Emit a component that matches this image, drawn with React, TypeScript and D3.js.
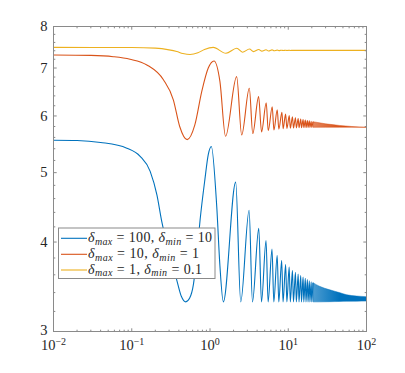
import React from "react";
import * as d3 from "d3";

const W = 405;
const H = 373;
const M = { left: 53.5, right: 366.5, top: 26.5, bottom: 331.5 };

const xDomain: [number, number] = [0.01, 100];
const yDomain: [number, number] = [3, 8];
const xMajorTicks = [0.01, 0.1, 1, 10, 100];
const xTickExponents = ["\u22122", "\u22121", "0", "1", "2"];
const yMajorTicks = [3, 4, 5, 6, 7, 8];

const seriesColors = ["#0072BD", "#D95319", "#EDB120"];
const legendMax = ["100", "10", "1"];
const legendMin = ["10", "1", "0.1"];
const legendWidths = [124, 111, 114];

// delta_max = 100, delta_min = 10 (extrema and shape points)
const blueSeries: [number, number][] = [
  [0.01, 5.55], [0.02, 5.545], [0.04, 5.51], [0.0865, 5.41], [0.128, 5.27], [0.172, 5.02],
  [0.21, 4.65], [0.242, 4.27], [0.3, 3.88], [0.376, 3.54], [0.43, 3.36], [0.49, 3.3],
  [0.55, 3.34], [0.614, 3.49], [0.68, 3.85], [0.748, 4.3], [0.86, 4.89], [0.95, 5.3],
  [1.04, 5.44], [1.22, 4.48], [1.34, 3.7], [1.48, 3.3], [2.13, 4.85], [2.47, 3.3],
  [3.16, 4.43], [3.49, 3.3], [4.2, 4.18], [4.55, 3.3], [5.2, 4.02], [5.53, 3.3],
  [6.2, 3.91], [6.54, 3.3], [7.22, 3.83], [7.57, 3.3], [8.24, 3.77], [8.58, 3.3],
  [9.26, 3.72], [9.6, 3.3], [10.28, 3.69], [10.62, 3.3], [11.32, 3.65], [11.65, 3.3],
  [12.36, 3.63], [12.68, 3.3], [13.4, 3.61], [13.72, 3.3], [14.44, 3.59], [14.76, 3.3],
  [15.48, 3.575], [15.8, 3.3], [16.52, 3.56], [16.84, 3.3], [17.56, 3.545], [17.88, 3.3],
  [18.6, 3.53], [18.92, 3.3], [19.64, 3.52], [19.96, 3.3], [20.68, 3.51],
];
const blueBandX = [20.68, 25, 34, 45, 56, 75, 100];
const blueBandTop = [3.51, 3.47, 3.43, 3.4, 3.376, 3.362, 3.355];
const blueBandBottom = [3.3, 3.3, 3.302, 3.304, 3.306, 3.307, 3.308];

// delta_max = 10, delta_min = 1
const orangeSeries: [number, number][] = [
  [0.01, 7.3], [0.03, 7.29], [0.058, 7.26], [0.095, 7.2], [0.156, 7.07], [0.254, 6.74],
  [0.34, 6.32], [0.41, 5.8], [0.51, 5.56], [0.64, 5.83], [0.784, 6.49], [0.95, 7.0],
  [1.125, 7.16], [1.34, 6.7], [1.58, 5.62], [2.19, 6.81], [2.54, 5.645], [3.18, 6.56],
  [3.52, 5.67], [4.18, 6.385], [4.56, 5.7], [5.23, 6.26], [5.55, 5.72], [6.24, 6.18],
  [6.56, 5.735], [7.23, 6.12], [7.58, 5.75], [8.3, 6.07], [8.6, 5.76], [9.25, 6.035],
  [9.62, 5.765], [10.3, 6.006], [10.64, 5.77], [11.32, 5.985], [11.66, 5.772], [12.36, 5.965],
  [12.7, 5.774], [13.4, 5.95], [13.74, 5.776], [14.44, 5.94], [14.78, 5.778], [15.48, 5.93],
  [15.82, 5.78], [16.52, 5.92], [16.86, 5.781], [17.56, 5.91], [17.9, 5.782], [18.6, 5.905],
  [18.94, 5.783], [19.64, 5.897], [19.98, 5.784], [20.68, 5.89],
];
const orangeBandX = [20.68, 30, 45, 65, 100];
const orangeBandTop = [5.89, 5.85, 5.82, 5.8, 5.787];
const orangeBandBottom = [5.784, 5.785, 5.785, 5.785, 5.783];

// delta_max = 1, delta_min = 0.1
const yellowSeries: [number, number][] = [
  [0.01, 7.48], [0.1, 7.478], [0.2, 7.462], [0.3, 7.42], [0.376, 7.38], [0.45, 7.335],
  [0.556, 7.31], [0.7, 7.35], [0.85, 7.43], [1.1, 7.48], [1.6, 7.34], [2.2, 7.46],
  [2.6, 7.365], [3.2, 7.44], [3.6, 7.38], [4.2, 7.43], [4.6, 7.39], [5.2, 7.425],
  [5.6, 7.395], [6.2, 7.42], [6.6, 7.4], [7.2, 7.415], [7.6, 7.403], [8.2, 7.413],
  [8.6, 7.405], [9.25, 7.412], [9.6, 7.406], [10.3, 7.41], [10.6, 7.407], [11.3, 7.409],
  [100, 7.408],
];

const FONT = '"Liberation Serif", "Times New Roman", Times, serif';
const AXIS = "#8a8a8a";
const TEXT = "#262626";

export default function App() {
  const x = d3.scaleLog().domain(xDomain).range([M.left, M.right]);
  const y = d3.scaleLog().domain(yDomain).range([M.bottom, M.top]);

  const line = d3
    .line<[number, number]>()
    .x((d) => x(d[0]))
    .y((d) => y(d[1]))
    .curve(d3.curveMonotoneX);

  const band = (xs: number[], top: number[], bottom: number[]) =>
    d3
      .area<number>()
      .x((i) => x(xs[i]))
      .y0((i) => y(bottom[i]))
      .y1((i) => y(top[i]))
      .curve(d3.curveMonotoneX)(d3.range(xs.length)) as string;

  const xMinor: number[] = [];
  for (let e = -2; e < 2; e++) for (let k = 2; k <= 9; k++) xMinor.push(k * Math.pow(10, e));
  const yMinor: number[] = [];
  for (let v = 3.2; v < 7.95; v += 0.2) {
    const r = Math.round(v * 10) / 10;
    if (Math.abs(r - Math.round(r)) > 1e-6) yMinor.push(r);
  }

  const major = 3.2;
  const minor = 1.8;

  const series = [blueSeries, orangeSeries, yellowSeries];

  const legX = 58.5;
  const legY = 228;
  const legW = 156.5;
  const legH = 50.5;
  const rowY = [238.3, 254.3, 270];

  const tStyle = { fontFamily: FONT };

  return (
    <svg
      width={W}
      height={H}
      style={{ position: "absolute", left: 0, top: 0, background: "#fff", fontFamily: FONT }}
    >
      <defs>
        <linearGradient id="bandFadeB" gradientUnits="userSpaceOnUse" x1={x(20.68)} x2={x(45)} y1={0} y2={0}>
          <stop offset="0" stopColor={seriesColors[0]} stopOpacity={0.7} />
          <stop offset="1" stopColor={seriesColors[0]} stopOpacity={1} />
        </linearGradient>
        <linearGradient id="bandFadeO" gradientUnits="userSpaceOnUse" x1={x(20.68)} x2={x(45)} y1={0} y2={0}>
          <stop offset="0" stopColor={seriesColors[1]} stopOpacity={0.7} />
          <stop offset="1" stopColor={seriesColors[1]} stopOpacity={1} />
        </linearGradient>
        <clipPath id="plotClip">
          <rect x={M.left} y={M.top} width={M.right - M.left} height={M.bottom - M.top} />
        </clipPath>
      </defs>
      <rect x={0} y={0} width={W} height={H} fill="#fff" />

      {/* data */}
      <g clipPath="url(#plotClip)">
        {series.map((s, i) => (
          <path key={i} d={line(s) as string} fill="none" stroke={seriesColors[i]} strokeWidth={1.1} />
        ))}
        <path d={band(blueBandX, blueBandTop, blueBandBottom)} fill="url(#bandFadeB)" stroke={seriesColors[0]} strokeWidth={0.6} strokeOpacity={0.8} />
        <path d={band(orangeBandX, orangeBandTop, orangeBandBottom)} fill="url(#bandFadeO)" stroke={seriesColors[1]} strokeWidth={0.6} strokeOpacity={0.8} />
      </g>

      {/* box */}
      <rect x={M.left} y={M.top} width={M.right - M.left} height={M.bottom - M.top} fill="none" stroke={AXIS} strokeWidth={1} />

      {/* x ticks */}
      {xMajorTicks.map((t) => (
        <g key={"xm" + t}>
          <line x1={x(t)} x2={x(t)} y1={M.bottom} y2={M.bottom - major} stroke={AXIS} />
          <line x1={x(t)} x2={x(t)} y1={M.top} y2={M.top + major} stroke={AXIS} />
        </g>
      ))}
      {xMinor.map((t) => (
        <g key={"xn" + t}>
          <line x1={x(t)} x2={x(t)} y1={M.bottom} y2={M.bottom - minor} stroke={AXIS} />
          <line x1={x(t)} x2={x(t)} y1={M.top} y2={M.top + minor} stroke={AXIS} />
        </g>
      ))}
      {/* y ticks */}
      {yMajorTicks.map((t) => (
        <g key={"ym" + t}>
          <line x1={M.left} x2={M.left + major} y1={y(t)} y2={y(t)} stroke={AXIS} />
          <line x1={M.right} x2={M.right - major} y1={y(t)} y2={y(t)} stroke={AXIS} />
        </g>
      ))}
      {yMinor.map((t) => (
        <g key={"yn" + t}>
          <line x1={M.left} x2={M.left + minor} y1={y(t)} y2={y(t)} stroke={AXIS} />
          <line x1={M.right} x2={M.right - minor} y1={y(t)} y2={y(t)} stroke={AXIS} />
        </g>
      ))}

      {/* tick labels */}
      {xMajorTicks.map((t, i) => (
        <text key={"xl" + t} x={x(t)} y={349.5} textAnchor="middle" fontSize={14.5} fill={TEXT} style={tStyle}>
          10
          <tspan fontSize={10} dy={-4.5}>{xTickExponents[i]}</tspan>
        </text>
      ))}
      {yMajorTicks.map((t) => (
        <text key={"yl" + t} x={47.5} y={y(t) + (t === 3 ? 3.2 : 4.6)} textAnchor="end" fontSize={14.5} fill={TEXT} style={tStyle}>
          {t}
        </text>
      ))}

      {/* legend */}
      <rect x={legX} y={legY} width={legW} height={legH} fill="#fff" stroke={AXIS} strokeWidth={1} />
      {seriesColors.map((c, i) => (
        <g key={"lg" + i}>
          <line x1={61} x2={87} y1={rowY[i]} y2={rowY[i]} stroke={c} strokeWidth={1.1} />
          <text
            x={88}
            y={rowY[i] + 3.8}
            fontSize={14}
            fill={TEXT}
            textLength={legendWidths[i]}
            lengthAdjust="spacing"
            style={{ whiteSpace: "pre", fontFamily: FONT }}
          >
            <tspan fontStyle="italic">δ</tspan>
            <tspan fontStyle="italic" fontSize={10} dy={2.5}>max</tspan>
            <tspan dy={-2.5}>{" = " + legendMax[i] + ", "}</tspan>
            <tspan fontStyle="italic">δ</tspan>
            <tspan fontStyle="italic" fontSize={10} dy={2.5}>min</tspan>
            <tspan dy={-2.5}>{" = " + legendMin[i]}</tspan>
          </text>
        </g>
      ))}
    </svg>
  );
}
